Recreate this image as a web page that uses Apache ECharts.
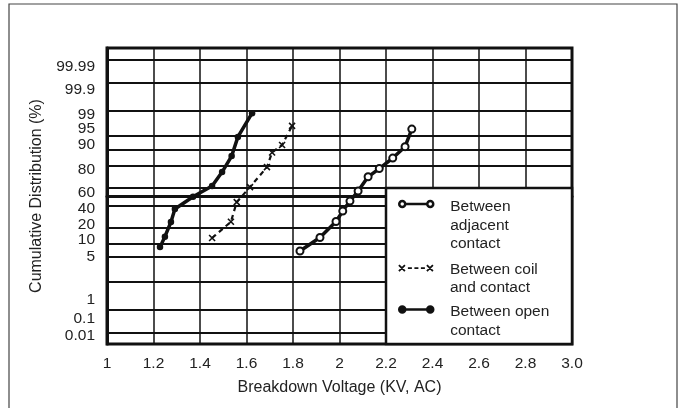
<!DOCTYPE html>
<html><head><meta charset="utf-8">
<script src="https://cdn.jsdelivr.net/npm/echarts@6/dist/echarts.min.js"></script>
<style>html,body{margin:0;padding:0;background:#fff}#c{width:680px;height:408px}</style>
</head><body><div id="c"></div>
<script>
// ---- data ----
const xTickLabels = ['1','1.2','1.4','1.6','1.8','2','2.2','2.4','2.6','2.8','3.0'];
const yTickValues = [99.99, 99.9, 99, 95, 90, 80, 60, 40, 20, 10, 5, 1, 0.1, 0.01];
const yTickLabels = ['99.99','99.9','99','95','90','80','60','40','20','10','5','1','0.1','0.01'];
const seriesNames = ['Between\nadjacent\ncontact', 'Between coil\nand contact', 'Between open\ncontact'];

const adjacentKV  = [1.830, 1.916, 1.985, 2.014, 2.045, 2.080, 2.123, 2.171, 2.229, 2.282, 2.311];
const adjacentPct = [6.9, 13.2, 24.8, 34.6, 45.1, 56.0, 70.5, 77.7, 85.3, 91.3, 96.7];

const coilKV  = [1.452, 1.533, 1.558, 1.615, 1.688, 1.710, 1.753, 1.796];
const coilPct = [12.9, 24.6, 44.0, 60.2, 78.9, 88.5, 92.0, 97.3];

const openKV  = [1.228, 1.249, 1.275, 1.292, 1.370, 1.452, 1.495, 1.536, 1.563, 1.624];
const openPct = [8.4, 13.7, 24.4, 36.7, 49.8, 61.3, 74.8, 86.5, 94.8, 98.85];

// ---- styling: vertical nudge (px, up positive) of each y tick label ----
const yLabelNudge = [-6.5, -7, -3, 7, 4.5, -4.3, -5.7, -3.2, 2.4, 3.5, -0.1, -18, -9, -3];

// ---- normal probability scale ----
function probit(p) {
  const a=[-3.969683028665376e+01,2.209460984245205e+02,-2.759285104469687e+02,1.383577518672690e+02,-3.066479806614716e+01,2.506628277459239e+00];
  const b=[-5.447609879822406e+01,1.615858368580409e+02,-1.556989798598866e+02,6.680131188771972e+01,-1.328068155288572e+01];
  const c=[-7.784894002430293e-03,-3.223964580411365e-01,-2.400758277161838e+00,-2.549732539343734e+00,4.374664141464968e+00,2.938163982698783e+00];
  const d=[7.784695709041462e-03,3.224671290700398e-01,2.445134137142996e+00,3.754408661907416e+00];
  const plow=0.02425, phigh=1-plow; let q,r;
  if(p<plow){q=Math.sqrt(-2*Math.log(p));return (((((c[0]*q+c[1])*q+c[2])*q+c[3])*q+c[4])*q+c[5])/((((d[0]*q+d[1])*q+d[2])*q+d[3])*q+1);}
  if(p<=phigh){q=p-0.5;r=q*q;return (((((a[0]*r+a[1])*r+a[2])*r+a[3])*r+a[4])*r+a[5])*q/(((((b[0]*r+b[1])*r+b[2])*r+b[3])*r+b[4])*r+1);}
  q=Math.sqrt(-2*Math.log(1-p));return -(((((c[0]*q+c[1])*q+c[2])*q+c[3])*q+c[4])*q+c[5])/((((d[0]*q+d[1])*q+d[2])*q+d[3])*q+1);
}
const zOf = pct => probit(pct / 100);

const Y_MIN = -4.02, Y_MAX = 4.05;
const GRID = {left:107, right:108, top:48, bottom:64};
const plotH = 408 - GRID.top - GRID.bottom;
const pxPerZ = plotH / (Y_MAX - Y_MIN);

const gridZ = yTickValues.map(zOf);
const labelZ = gridZ.map((v, i) => v + yLabelNudge[i] / pxPerZ);

const pairs = (xs, ps) => xs.map((x, i) => [x, zOf(ps[i])]);

const INK = '#111', TXT = '#222';
const FONT = 'Liberation Sans, Arial, sans-serif';
const FS = 15.5;
const LH = 18.5;

function circlesIcon(H, cy) {
  return 'path://M0,0M36,' + H +
    'M1,' + cy + 'A3,3,0,1,1,7,' + cy + 'A3,3,0,1,1,1,' + cy + 'Z' +
    'M7,' + cy + 'L29,' + cy +
    'M29,' + cy + 'A3,3,0,1,1,35,' + cy + 'A3,3,0,1,1,29,' + cy + 'Z';
}
function crossIcon(H, cy) {
  const t = cy - 3, b = cy + 3;
  return 'path://M0,0M36,' + H +
    'M1,' + t + 'L7,' + b + 'M1,' + b + 'L7,' + t +
    'M10,' + cy + 'L14,' + cy + 'M16.5,' + cy + 'L20.5,' + cy + 'M23,' + cy + 'L27,' + cy +
    'M29,' + t + 'L35,' + b + 'M29,' + b + 'L35,' + t;
}

function legendFor(name, iconFn, itemStyle, textMidY, iconY, lines) {
  const H = lines * LH;
  const top = textMidY - LH / 2;
  const cy = iconY - top;
  return {
    data: [{name: name, icon: iconFn(H, cy), itemStyle: itemStyle}],
    orient: 'vertical', left: 397, top: top, padding: 0,
    itemWidth: 36, itemHeight: H, selectedMode: false, z: 60,
    textStyle: {fontSize: FS, color: TXT, fontFamily: FONT, lineHeight: LH, padding: [0, 0, 0, 11]}
  };
}

const chart = echarts.init(document.getElementById('c'), null, {renderer: 'canvas'});
chart.setOption({
  animation: false,
  backgroundColor: '#fff',
  textStyle: {fontFamily: FONT},
  grid: Object.assign({show: true, borderColor: INK, borderWidth: 3, backgroundColor: 'transparent'}, GRID),
  xAxis: {
    type: 'value', min: 1, max: 3, interval: 0.2,
    axisLine: {show: true, lineStyle: {color: INK, width: 3}},
    axisTick: {show: false},
    splitLine: {show: true, lineStyle: {color: INK, width: 1.5}},
    axisLabel: {margin: 12, fontSize: FS, color: TXT, fontFamily: FONT,
      formatter: v => xTickLabels[Math.round((v - 1) / 0.2)]},
    name: 'Breakdown Voltage (KV, AC)', nameLocation: 'middle', nameGap: 36,
    nameTextStyle: {fontSize: 16, color: TXT, fontFamily: FONT}
  },
  yAxis: {
    type: 'value', min: Y_MIN, max: Y_MAX,
    axisLine: {show: true, lineStyle: {color: INK, width: 3}},
    axisTick: {show: false, customValues: gridZ},
    splitLine: {show: true, lineStyle: {color: INK, width: 2}},
    axisLabel: {customValues: labelZ, margin: 12, fontSize: FS, color: TXT, fontFamily: FONT,
      formatter: v => {
        let best = 0, bd = Infinity;
        labelZ.forEach((lz, i) => { const dd = Math.abs(lz - v); if (dd < bd) { bd = dd; best = i; } });
        return yTickLabels[best];
      }},
    name: 'Cumulative Distribution (%)', nameLocation: 'middle', nameGap: 62,
    nameTextStyle: {fontSize: 16, color: TXT, fontFamily: FONT}
  },
  legend: [
    legendFor(seriesNames[0], circlesIcon, {color: '#fff', borderColor: INK, borderWidth: 2.5}, 205.7, 202.7, 3),
    legendFor(seriesNames[1], crossIcon, {color: 'transparent', borderColor: INK, borderWidth: 1.8}, 268.7, 267.3, 2),
    legendFor(seriesNames[2], circlesIcon, {color: INK, borderColor: INK, borderWidth: 2.5}, 310.7, 308.3, 2)
  ],
  graphic: [
    {type: 'rect', silent: true, z: 1, shape: {x: 9, y: 4, width: 668, height: 430},
     style: {fill: 'none', stroke: '#444', lineWidth: 1.2}},
    {type: 'rect', silent: true, z: 1, shape: {x: 386, y: 188, width: 186, height: 156},
     style: {fill: '#fff', stroke: INK, lineWidth: 2.5}}
  ],
  series: [
    {name: seriesNames[0], type: 'line', data: pairs(adjacentKV, adjacentPct),
     symbol: 'emptyCircle', symbolSize: 7, z: 3,
     lineStyle: {color: INK, width: 3.5}, itemStyle: {color: INK, borderWidth: 1.5}},
    {name: seriesNames[1], type: 'line', data: pairs(coilKV, coilPct),
     symbol: 'path://M0,0L10,10M0,10L10,0', symbolSize: 6, z: 3,
     lineStyle: {color: INK, width: 2.2, type: [5, 4]},
     itemStyle: {color: INK, borderColor: INK, borderWidth: 1.6}},
    {name: seriesNames[2], type: 'line', data: pairs(openKV, openPct),
     symbol: 'circle', symbolSize: 6.5, z: 3,
     lineStyle: {color: INK, width: 3.5}, itemStyle: {color: INK}}
  ]
});
</script>
</body></html>
